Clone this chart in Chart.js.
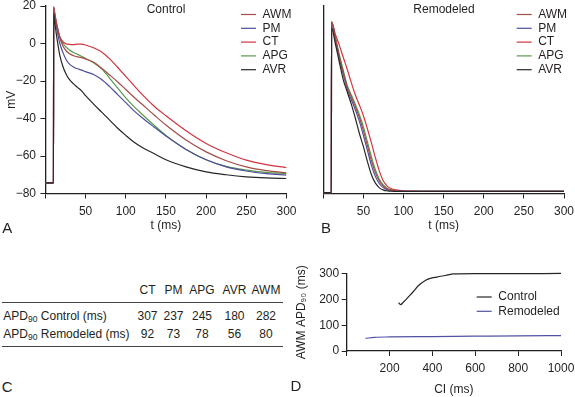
<!DOCTYPE html>
<html><head><meta charset="utf-8">
<script src="https://cdn.jsdelivr.net/npm/chart.js@4.4.0/dist/chart.umd.min.js"></script>
<style>
html,body{margin:0;padding:0;background:#fff;}
body{width:575px;height:397px;position:relative;overflow:hidden;font-family:"Liberation Sans",Arial,Helvetica,sans-serif;color:#231f20;}
canvas{position:absolute;}
.t{position:absolute;font-size:12px;line-height:14px;white-space:nowrap;transform:translate(-50%,-50%);}
.l{position:absolute;font-size:12px;line-height:14px;white-space:nowrap;transform:translateY(-50%);}
.big{position:absolute;font-size:15px;line-height:16px;transform:translate(-50%,-50%);}
.rule{position:absolute;height:0;border-top:1px solid #444;}
sub{font-size:8.5px;vertical-align:-2px;line-height:0;}
</style></head><body>
<canvas id="cA" width="300" height="240" style="left:0;top:0"></canvas>
<canvas id="cB" width="275" height="240" style="left:300px;top:0"></canvas>
<canvas id="cD" width="285" height="142" style="left:290px;top:255px"></canvas>
<script>
// ---------- data ----------
const seriesNames = ['AWM', 'PM', 'CT', 'APG', 'AVR'];
const seriesColors = ['#a24d48', '#4d4d9e', '#d2343f', '#58994a', '#262626'];

// Panel A: Control action potentials (t in ms, mV)
const tA = [0, 10, 10.3, 12, 15, 18, 22, 26, 30, 35, 40, 45, 50, 60, 70, 80, 90, 100, 110, 120, 135, 150, 175, 200, 225, 250, 275, 300];
const awmA = [-74.3, -74.3, 19, 14, 8, 3, -1.5, -4, -5.5, -6.5, -7.1, -7.5, -8.2, -10, -13.2, -16.8, -20.5, -24.5, -28.5, -32.3, -38, -43.5, -51.5, -57.8, -62.5, -65.8, -67.8, -69];
const pmA = [-74.3, -74.3, 18.5, 13, 6, 0, -5, -8.8, -11, -12.5, -13.5, -14.2, -15, -16.5, -19.2, -23, -27.3, -31.5, -35.8, -39.5, -44.5, -49.3, -56.5, -62, -65.8, -68, -69.4, -70.2];
const ctA = [-74.3, -74.3, 19.5, 15, 8.5, 3.5, 0.8, -0.2, -0.5, -0.6, -0.3, -0.3, -0.8, -2.3, -4.5, -8.2, -12.8, -17.5, -22.3, -27, -33.3, -38.5, -46.5, -53.3, -58.3, -62.2, -64.6, -66.2];
const apgA = [-74.3, -74.3, 19.5, 15, 8.5, 3.5, 0, -2, -3.5, -4.8, -5.8, -6.8, -8, -10.2, -13.5, -18.6, -23.8, -29, -33.5, -37.6, -43.5, -49, -56.5, -62, -65.5, -67.5, -68.7, -69.4];
const avrA = [-74.3, -74.3, 16, 10, 1, -6.5, -12.5, -16.5, -19.3, -21.5, -23.4, -25.3, -27.8, -32.3, -36.6, -40.9, -45.2, -49, -52.5, -55.3, -58.7, -62, -65.8, -68.5, -70, -71.1, -71.7, -72];

// Panel B: Remodeled action potentials
const tB = [0, 10, 10.3, 15, 20, 25, 30, 35, 40, 45, 50, 55, 60, 65, 70, 75, 80, 85, 90, 100, 120, 150, 200, 250, 300];
const awmB = [-79.5, -79.5, 11.5, 3, -7, -15.5, -23.5, -28.5, -33.8, -39.5, -46.5, -54.5, -62.5, -69, -73.5, -76.2, -77.6, -78.2, -78.6, -78.8, -78.9, -78.9, -78.9, -78.9, -78.9];
const pmB = [-79.5, -79.5, 11, 2.5, -8, -16.5, -24.5, -30, -35.5, -41.5, -49, -57, -65, -71, -74.8, -77, -78, -78.5, -78.7, -78.8, -78.9, -78.9, -78.9, -78.9, -78.9];
const ctB = [-79.5, -79.5, 11.5, 5, -1, -7.5, -14, -21, -27.5, -32.8, -38.5, -45.5, -53, -61, -68.2, -73.5, -76.2, -77.5, -78.1, -78.6, -78.8, -78.9, -78.9, -78.9, -78.9];
const apgB = [-79.5, -79.5, 11.5, 3.5, -6, -14.5, -22.5, -27.5, -32.5, -38, -44.5, -52.5, -60.5, -67.5, -72.5, -75.6, -77.3, -78.1, -78.5, -78.8, -78.9, -78.9, -78.9, -78.9, -78.9];
const avrB = [-79.5, -79.5, 8.5, 0, -10, -19.5, -26, -32.5, -40, -48, -55, -63, -70, -74.5, -77, -78.2, -78.6, -78.8, -78.9, -78.9, -78.9, -78.9, -78.9, -78.9, -78.9];

// Panel C: table
const tableSites = ['CT', 'PM', 'APG', 'AVR', 'AWM'];
const apd90Control = [307, 237, 245, 180, 282];
const apd90Remodeled = [92, 73, 78, 56, 80];

// Panel D: AWM APD90 restitution vs CI
const ciControl = [242, 251, 265, 290, 310, 335, 365, 390, 420, 460, 500, 600, 800, 1000];
const apdControl = [188, 180, 190, 212, 230, 254, 273, 282, 287, 293, 299, 300, 300, 301];
const ciRemodeled = [88, 130, 200, 400, 600, 800, 1000];
const apdRemodeled = [49, 53, 54.5, 56, 57.5, 59, 60];

// ---------- helpers ----------
const FAMILY = '"Liberation Sans", Arial, Helvetica, sans-serif';
const FONT = {family: FAMILY, size: 12, lineHeight: 1.2};
const INK = '#231f20';
const minus = v => String(v).replace('-', '\u2212');
const pts = (xs, ys) => xs.map((x, i) => ({x: x, y: ys[i]}));
function fixW(w) { return s => { s.width = w; s.paddingTop = 0; s.paddingBottom = 0; }; }
function fixH(h) { return s => { s.height = h; s.paddingLeft = 0; s.paddingRight = 0; }; }

function textPlugin(cfg) {
  return {
    id: 'panelText',
    afterDraw(chart) {
      const ctx = chart.ctx;
      ctx.save();
      ctx.textBaseline = 'middle';
      (cfg.items || []).forEach(it => {
        ctx.font = (it.size || 12) + 'px ' + FAMILY;
        ctx.fillStyle = INK;
        ctx.textAlign = it.align || 'center';
        ctx.fillText(it.text, it.x, it.y);
      });
      if (cfg.legend) {
        const L = cfg.legend;
        ctx.font = '12px ' + FAMILY;
        ctx.textAlign = 'left';
        chart.data.datasets.forEach((ds, i) => {
          const y = L.y + i * L.dy;
          ctx.strokeStyle = ds.borderColor;
          ctx.lineWidth = 1.2;
          ctx.beginPath(); ctx.moveTo(L.x, y); ctx.lineTo(L.x + L.len, y); ctx.stroke();
          ctx.fillStyle = INK;
          ctx.fillText(ds.label, L.x + L.len + L.gap, y);
        });
      }
      ctx.restore();
    }
  };
}

function apDatasets(t, series) {
  return seriesNames.map((n, i) => ({
    label: n, data: pts(t, series[i]), borderColor: seriesColors[i],
    borderWidth: 1.2, pointRadius: 0, fill: false,
    cubicInterpolationMode: 'monotone', order: n === 'AVR' ? -1 : i
  }));
}

const gridOpt = {drawOnChartArea: false, drawTicks: true, tickLength: 5, color: INK, lineWidth: 1};
const borderOpt = {display: true, color: INK, width: 1.3};
const baseOpts = {responsive: false, animation: false, devicePixelRatio: 1,
  plugins: {legend: {display: false}, tooltip: {enabled: false}}};

// ---------- Panel A ----------
new Chart(document.getElementById('cA'), {
  type: 'line',
  data: {datasets: apDatasets(tA, [awmA, pmA, ctA, apgA, avrA])},
  options: Object.assign({}, baseOpts, {
    layout: {padding: {left: 0, top: 6, right: 13.5, bottom: 0}},
    scales: {
      x: {type: 'linear', min: 0, max: 300, afterFit: fixH(46.5), grid: gridOpt, border: borderOpt,
        ticks: {stepSize: 50, padding: 6.3, color: INK, font: FONT, maxRotation: 0, autoSkip: false, callback: v => v === 0 ? '' : v},
        title: {display: true, text: 't (ms)', color: INK, font: FONT, padding: {top: 0, bottom: 7.3}}},
      y: {type: 'linear', min: -80, max: 20, afterFit: fixW(45.4), grid: gridOpt, border: borderOpt,
        ticks: {stepSize: 20, padding: 4.4, color: INK, font: FONT, callback: v => minus(v)},
        title: {display: true, text: 'mV', color: INK, font: FONT, padding: {top: 4.5, bottom: 0}}}
    }
  }),
  plugins: [textPlugin({
    items: [{text: 'Control', x: 166, y: 10}, {text: 'A', x: 7.2, y: 229, size: 15}],
    legend: {x: 241, y: 14.5, dy: 13.8, len: 15, gap: 6.5}
  })]
});

// ---------- Panel B ----------
new Chart(document.getElementById('cB'), {
  type: 'line',
  data: {datasets: apDatasets(tB, [awmB, pmB, ctB, apgB, avrB])},
  options: Object.assign({}, baseOpts, {
    layout: {padding: {left: 0, top: 6, right: 11, bottom: 0}},
    scales: {
      x: {type: 'linear', min: 0, max: 300, afterFit: fixH(46.5), grid: gridOpt, border: borderOpt,
        ticks: {stepSize: 50, padding: 6.3, color: INK, font: FONT, maxRotation: 0, autoSkip: false, callback: v => v === 0 ? '' : v},
        title: {display: true, text: 't (ms)', color: INK, font: FONT, padding: {top: 0, bottom: 7.3}}},
      y: {type: 'linear', min: -80, max: 20, afterFit: fixW(23.3),
        grid: {drawOnChartArea: false, drawTicks: false}, border: borderOpt,
        ticks: {display: false, stepSize: 20}}
    }
  }),
  plugins: [textPlugin({
    items: [{text: 'Remodeled', x: 144, y: 10}, {text: 'B', x: 26, y: 229, size: 15}],
    legend: {x: 216.7, y: 14.5, dy: 13.8, len: 15, gap: 6.5}
  })]
});

// ---------- Panel D ----------
new Chart(document.getElementById('cD'), {
  type: 'line',
  data: {datasets: [
    {label: 'Control', data: pts(ciControl, apdControl), borderColor: '#262626', borderWidth: 1.2, pointRadius: 0, cubicInterpolationMode: 'monotone', clip: 4},
    {label: 'Remodeled', data: pts(ciRemodeled, apdRemodeled), borderColor: '#5252a3', borderWidth: 1.2, pointRadius: 0, cubicInterpolationMode: 'monotone', clip: 4}
  ]},
  options: Object.assign({}, baseOpts, {
    layout: {padding: {left: 0, top: 18.7, right: 14, bottom: 0}},
    scales: {
      x: {type: 'linear', min: 0, max: 1000, afterFit: fixH(46), grid: gridOpt, border: borderOpt,
        ticks: {stepSize: 200, padding: 5.1, color: INK, font: FONT, maxRotation: 0, autoSkip: false, callback: v => v === 0 ? '' : v},
        title: {display: true, text: 'CI (ms)', color: INK, font: FONT, padding: {top: 0, bottom: 0}}},
      y: {type: 'linear', min: 0, max: 300, afterFit: fixW(56.7), grid: gridOpt, border: borderOpt,
        ticks: {stepSize: 100, padding: 2.5, color: INK, font: FONT},
        title: {display: true, text: 'AWM APD\u2089\u2080 (ms)', color: INK, font: FONT, padding: {top: 4.5, bottom: 0}}}
    }
  }),
  plugins: [textPlugin({
    items: [{text: 'D', x: 6, y: 132, size: 15}],
    legend: {x: 186.7, y: 42, dy: 14.3, len: 15, gap: 6.6}
  })]
});

// ---------- Panel C (table) ----------
const colX = [147.5, 173.5, 202, 234.5, 266];
function addDiv(cls, html, x, y, extra) {
  const d = document.createElement('div');
  d.className = cls; d.innerHTML = html;
  d.style.left = x + 'px'; d.style.top = y + 'px';
  if (extra) Object.assign(d.style, extra);
  document.body.appendChild(d);
}
tableSites.forEach((s, i) => addDiv('t', s, colX[i], 289.7));
addDiv('rule', '', 1.7, 301.5, {width: '281px'});
addDiv('l', 'APD<sub>90</sub> Control (ms)', 3.3, 316.3);
apd90Control.forEach((v, i) => addDiv('t', String(v), colX[i], 316.3));
addDiv('l', 'APD<sub>90</sub> Remodeled (ms)', 3.3, 334);
apd90Remodeled.forEach((v, i) => addDiv('t', String(v), colX[i], 334));
addDiv('rule', '', 1.7, 345.5, {width: '281px'});
addDiv('big', 'C', 7.2, 386.7);
</script>
</body></html>
